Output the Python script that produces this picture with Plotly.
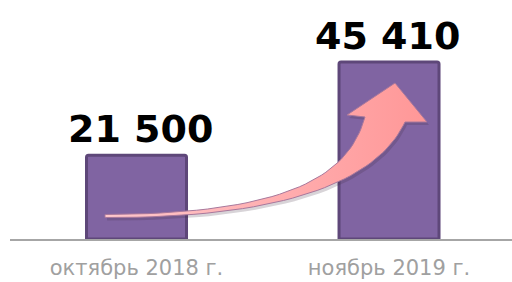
import numpy as np
import plotly.graph_objects as go

categories = ["октябрь 2018 г.", "ноябрь 2019 г."]
values = [21500, 45410]
labels = [f"{v:,}".replace(",", " ") for v in values]

W, H = 512, 282
ML, MR, MT, MB = 10, 0, 0, 43
PW, PH = W - ML - MR, H - MT - MB

fig = go.Figure()
fig.add_trace(go.Bar(
    x=categories, y=values,
    marker=dict(color="#8064a2", line=dict(color="#5e4779", width=3), cornerradius=2),
    hoverinfo="skip", showlegend=False,
))

for c, v, t, xs in zip(categories, values, labels, [4, -2]):
    fig.add_annotation(x=c, y=v, text=t, showarrow=False, yanchor="bottom", yshift=2, xshift=xs,
                       font=dict(family="DejaVu Sans", size=38, color="#000000", weight="bold"))

# decorative arrow in pixel space (overlay axes)
def bez(p0, p1, p2, p3, n=40):
    t = np.linspace(0, 1, n)[:, None]
    p0, p1, p2, p3 = map(np.array, (p0, p1, p2, p3))
    return ((1-t)**3)*p0 + 3*((1-t)**2)*t*p1 + 3*(1-t)*t**2*p2 + t**3*p3

upper = bez((105, 214.5), (300, 214), (350, 170), (365, 117))
head = np.array([(347, 115), (395, 83), (427, 122), (405, 122)])
lower = bez((405, 122), (385, 165), (320, 218.5), (105, 217.5))
poly = np.vstack([upper, head, lower, upper[:1]])

sx, sy = poly[:, 0] + 2, poly[:, 1] + 3
fig.add_trace(go.Scatter(x=sx, y=sy, xaxis="x2", yaxis="y2", mode="lines", fill="toself",
                         fillcolor="rgba(60,40,60,0.2)", line=dict(width=0),
                         hoverinfo="skip", showlegend=False))
fig.add_trace(go.Scatter(x=poly[:, 0], y=poly[:, 1], xaxis="x2", yaxis="y2", mode="lines",
                         fill="toself",
                         fillgradient=dict(type="horizontal",
                                           colorscale=[[0, "#ffc8cc"], [1, "#ff9797"]]),
                         line=dict(width=1, color="#a8789c"),
                         hoverinfo="skip", showlegend=False))

fig.update_layout(
    width=W, height=H,
    margin=dict(l=ML, r=MR, t=MT, b=MB),
    paper_bgcolor="white", plot_bgcolor="white",
    bargap=0.604,
    xaxis=dict(range=[-0.501, 1.487], showline=True, linecolor="#a6a6a6", linewidth=1.5,
               showgrid=False, zeroline=False, ticks="",
               tickfont=dict(family="DejaVu Sans", size=21, color="#a0a0a0"),
               ticklabelstandoff=9),
    yaxis=dict(range=[0, 61300], visible=False, showgrid=False, zeroline=False),
    xaxis2=dict(range=[ML, W - MR], overlaying="x", visible=False, fixedrange=True),
    yaxis2=dict(range=[MT + PH, MT], overlaying="y", visible=False, fixedrange=True),
)

fig.write_html("out.html", config={"displayModeBar": False},
               post_script="document.body.style.margin='0';document.body.style.overflow='hidden';")
